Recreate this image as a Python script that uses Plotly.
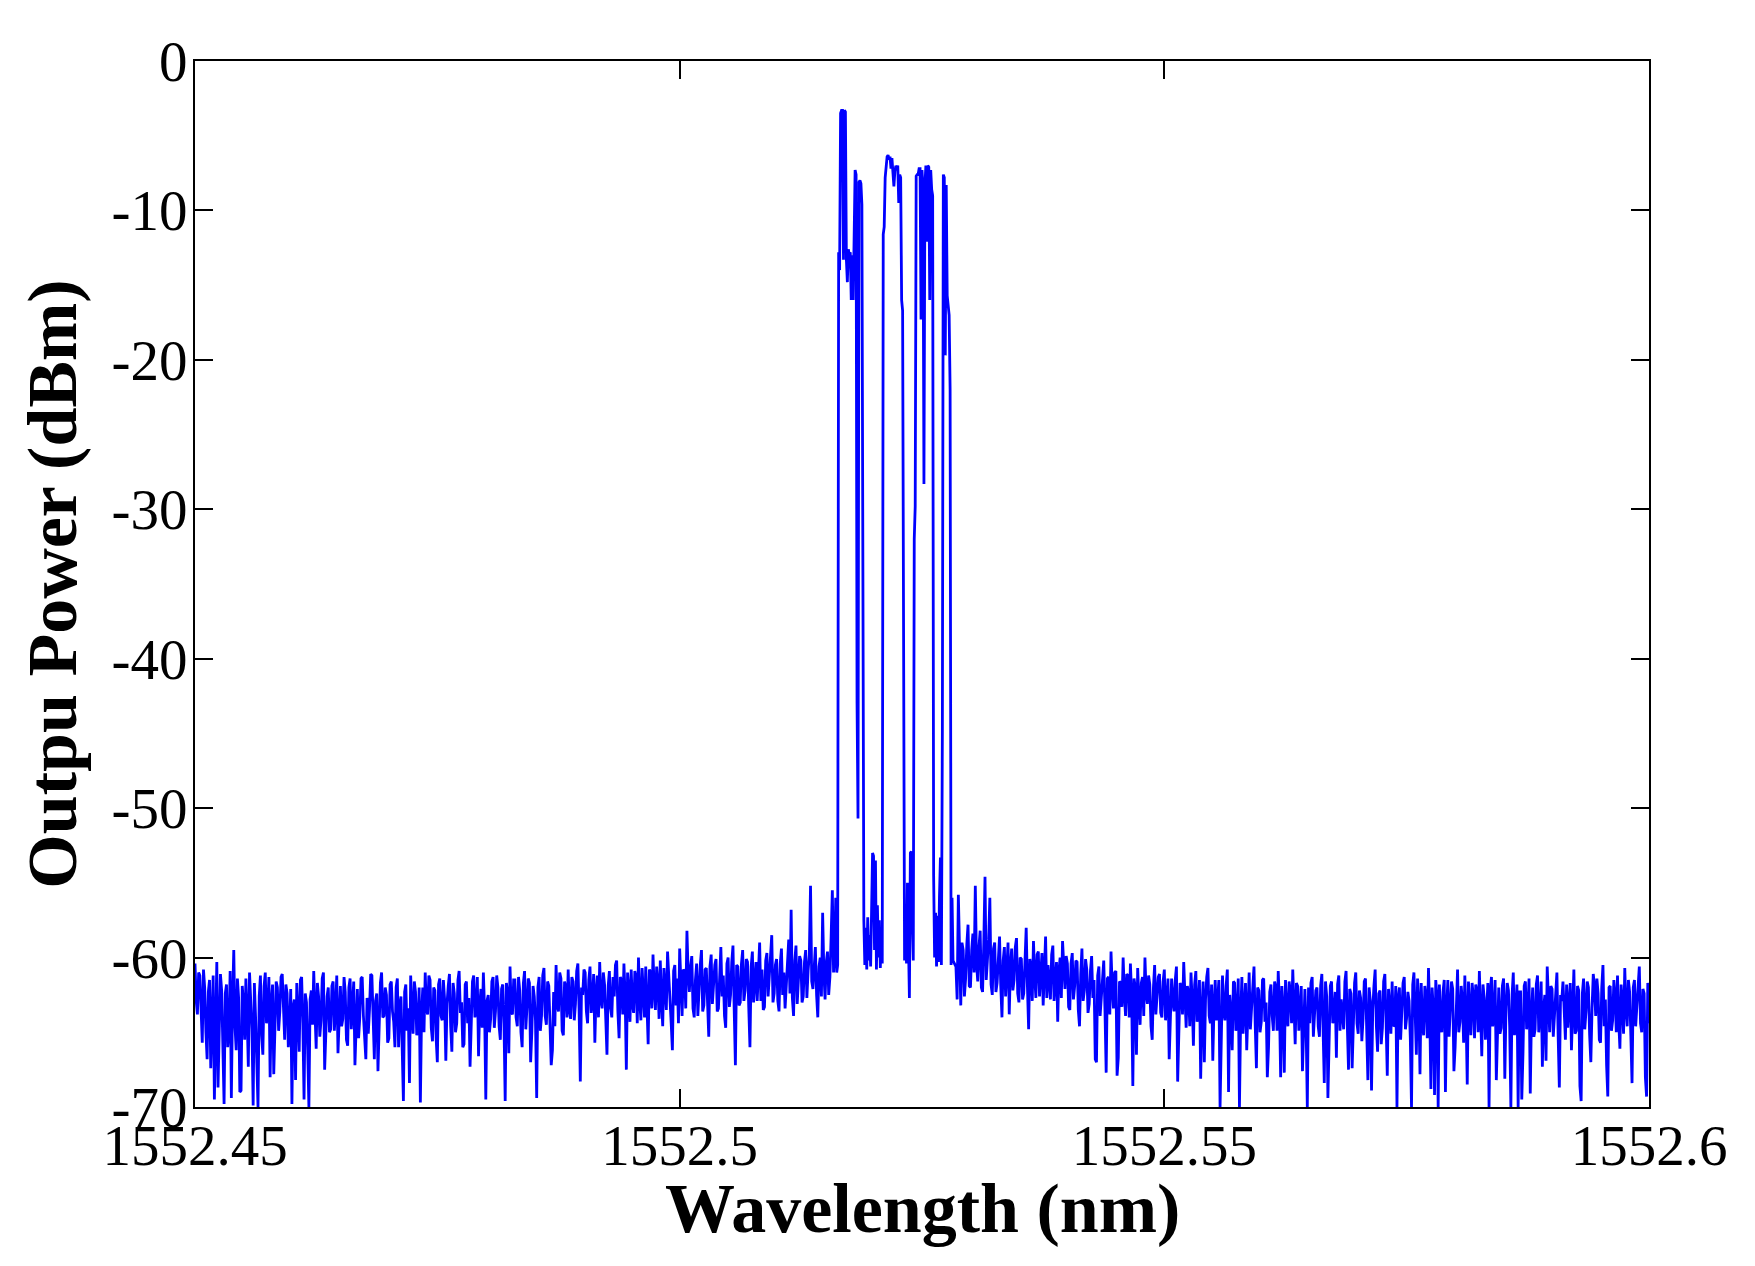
import numpy as np
import plotly.graph_objects as go

# ---- data: optical spectrum ----
# left noise floor: samples on a uniform wavelength grid (set A) and
# the in-between samples (set B, offset by half a step)
left_start = 1552.45
left_step = 0.00025
left_power = [
    -60.4, -63.8, -61.2, -65.7, -62.0, -66.8, -61.5, -63.9, -69.5, -60.3, -64.6, -62.2,
    -69.8, -61.8, -64.9, -69.4, -59.5, -66.2, -62.7, -68.9, -63.1, -61.4, -67.3, -62.5,
    -69.9, -64.0, -70.0, -61.2, -66.5, -61.0, -63.4, -68.0, -61.8, -65.1, -62.0, -63.6,
    -61.1, -65.5, -62.4, -64.8, -69.8, -62.8, -61.7, -66.3, -61.3, -69.5, -63.0, -70.0,
    -62.2, -60.9, -66.1, -62.6, -64.2, -61.0, -65.3, -62.0, -64.8, -61.6, -63.5, -66.4,
    -61.9, -64.1, -62.3, -65.9, -61.4, -63.2, -67.2, -62.1, -64.0, -61.3, -65.6, -62.7,
    -63.5, -61.2, -66.8, -62.4, -64.7, -61.0, -63.9, -62.5, -65.4, -61.6, -64.3, -62.0,
    -66.0, -62.6, -69.6, -61.8, -63.4, -61.2, -65.1, -62.3, -64.6, -69.7, -62.0, -61.0,
    -63.8, -61.5, -65.6, -62.2, -67.0, -61.4, -64.2, -62.8, -63.1, -61.1, -66.3, -62.4,
    -64.4, -60.9, -63.0, -65.8, -61.6, -62.7, -64.9, -61.2, -63.5, -66.6, -62.1, -61.0,
    -69.5, -62.5, -64.1, -61.3, -63.6, -62.0, -65.5, -61.8, -69.6, -62.4, -60.6, -63.8,
    -61.5, -64.6, -62.2, -66.0, -60.9, -63.3, -61.7, -65.0, -62.6, -69.4, -61.3, -63.9,
    -60.7, -64.5, -61.9, -67.2, -62.3, -60.5, -63.6, -61.4, -65.2, -62.0, -60.8, -64.1,
    -61.6, -63.1, -60.4, -68.3, -62.5, -61.0, -64.4, -60.6, -62.9, -65.7, -61.2, -60.3,
    -63.4, -61.8, -66.5, -60.9, -64.0, -62.6, -60.2, -65.4, -61.5, -60.4, -67.5, -62.1,
    -60.8, -63.7, -61.3, -60.0, -64.2, -62.4, -60.6, -65.8, -61.0, -59.8, -63.5, -61.7,
    -60.2, -64.6, -61.9, -59.6, -62.8, -66.2, -60.5, -61.4, -59.4, -63.9, -60.9, -58.2,
    -62.3, -59.9, -64.0, -60.4, -61.8, -59.5, -63.2, -60.7, -65.3, -59.8, -61.6, -60.1,
    -63.4, -59.3, -61.2, -64.7, -60.0, -62.5, -59.2, -67.2, -60.6, -63.0, -59.5, -62.2,
    -60.3, -66.0, -59.6, -61.5, -62.9, -59.0, -60.8, -63.3, -59.7, -61.2, -58.5, -62.4,
    -60.1, -63.6, -59.4, -61.0, -62.0, -58.8, -56.8, -63.9, -59.2, -61.8, -60.2, -62.6,
    -59.5, -60.9, -55.2, -62.1, -59.3, -64.0, -60.0, -57.0, -62.8, -59.6, -61.3, -55.5,
]
left_power_mid = [
    -62.9, -61.0, -64.4, -60.8, -65.0, -62.3, -67.4, -61.2, -63.6, -68.7, -61.1, -65.3,
    -62.4, -66.0, -60.9, -63.0, -64.6, -61.4, -69.0, -61.9, -65.5, -63.8, -61.0, -64.8,
    -61.7, -66.9, -62.6, -65.2, -61.9, -64.4, -61.3, -63.0, -67.8, -61.6, -64.9, -61.3,
    -64.2, -61.8, -66.0, -62.1, -63.3, -68.2, -63.8, -61.5, -64.4, -62.4, -66.2, -62.8,
    -64.5, -63.6, -61.7, -65.3, -61.4, -67.5, -62.6, -65.0, -61.9, -64.9, -61.2, -63.4,
    -64.6, -61.3, -65.5, -62.0, -64.8, -61.6, -63.7, -65.4, -61.4, -63.9, -66.8, -65.1,
    -61.1, -64.5, -62.9, -67.6, -61.7, -64.0, -62.0, -65.7, -61.8, -63.6, -66.0, -61.4,
    -63.2, -65.4, -62.3, -64.9, -68.4, -63.5, -61.6, -65.2, -62.0, -63.7, -65.0, -63.5,
    -61.2, -64.7, -62.0, -65.4, -61.8, -63.9, -61.5, -66.9, -61.9, -64.6, -61.7, -65.0,
    -61.5, -63.7, -66.0, -61.8, -64.4, -67.3, -61.6, -64.0, -61.3, -63.2, -64.7, -63.5,
    -62.9, -65.0, -61.6, -64.7, -61.2, -64.6, -62.1, -64.4, -61.7, -66.4, -63.6, -61.5,
    -64.0, -61.3, -65.0, -61.7, -64.8, -61.4, -67.0, -61.9, -64.2, -62.0, -64.9, -61.2,
    -63.9, -61.6, -64.7, -66.2, -64.6, -63.2, -61.0, -64.9, -61.6, -64.0, -63.5, -61.3,
    -64.2, -60.9, -63.5, -62.0, -60.8, -63.6, -61.5, -63.7, -61.1, -62.4, -64.0, -62.9,
    -61.0, -64.1, -61.9, -63.4, -61.3, -60.5, -63.6, -61.3, -63.8, -62.6, -61.0, -64.3,
    -63.1, -60.9, -64.4, -62.8, -60.7, -64.0, -62.9, -60.8, -63.4, -62.1, -60.6, -64.1,
    -62.8, -60.7, -63.5, -61.6, -64.4, -60.9, -63.2, -64.4, -61.7, -60.8, -63.4, -61.0,
    -60.6, -63.4, -61.5, -63.9, -60.5, -63.6, -60.8, -62.8, -60.6, -63.1, -60.5, -63.6,
    -60.8, -62.6, -63.9, -60.4, -63.3, -60.3, -63.5, -60.5, -63.2, -60.4, -62.9, -60.1,
    -63.3, -60.6, -63.0, -60.3, -60.6, -62.9, -63.5, -60.2, -62.6, -60.1, -63.0, -60.5,
    -62.9, -60.4, -62.5, -63.4, -60.0, -62.4, -62.7, -60.2, -63.1, -59.9, -63.0, -60.3,
    -62.7, -59.8, -61.6, -60.4, -62.5, -60.6, -62.6, -61.0, -60.3, -62.5, -58.6, -61.0,
]

# lasing lines region, finer grid
peak_start = 1552.5160
peak_step = 0.0001
peak_power = [
    -59.5, -56.0, -61.0, -60.5, -12.8, -14.0, -3.5, -3.3, -3.3, -13.3,
    -3.3, -3.4, -13.3, -14.8, -12.6, -13.0, -12.8, -16.0, -13.0, -16.0,
    -11.2, -7.3, -7.6, -43.0, -50.7, -8.1, -8.0, -8.2, -9.6, -42.0,
    -57.5, -60.5, -58.0, -60.8, -57.3, -60.2, -58.5, -60.6, -57.0, -53.0,
    -53.2, -59.5, -53.5, -60.8, -56.5, -60.0, -57.5, -60.7, -58.0, -60.4,
    -11.6, -11.1, -7.8, -7.0, -6.4, -6.3, -6.6, -6.4, -7.2, -6.5,
    -8.0, -8.4, -7.4, -7.0, -7.2, -7.0, -9.5, -7.6, -7.8, -16.0,
    -16.7, -48.0, -60.2, -57.0, -60.4, -55.0, -59.8, -62.7, -53.0, -52.9,
    -57.5, -60.2, -32.0, -29.8, -7.7, -7.6, -7.6, -7.2, -7.2, -17.3,
    -7.3, -8.4, -28.3, -8.3, -7.0, -12.1, -7.0, -7.1, -16.0, -7.3,
    -8.6, -9.0, -54.5, -60.0, -57.0, -60.6, -57.2, -60.3, -56.0, -53.3,
    -60.5, -45.0, -7.6, -7.8, -19.7, -8.3, -15.7, -16.3, -17.0, -22.0,
    -60.5, -56.0, -60.2,
]

# right noise floor (set A on grid, set B half a step later)
right_start = 1552.5285
right_step = 0.00025
right_power = [
    -60.6, -55.8, -63.2, -59.5, -61.4, -57.8, -62.0, -58.4, -55.2, -61.6, -58.2, -62.3,
    -54.6, -60.3, -56.0, -62.5, -59.0, -61.7, -58.6, -64.0, -59.3, -61.2, -63.8, -59.4,
    -61.5, -58.7, -63.0, -60.1, -62.4, -58.0, -64.8, -60.6, -58.9, -62.7, -59.6, -61.0,
    -63.2, -58.6, -60.5, -62.8, -59.2, -61.6, -64.3, -60.0, -58.9, -62.1, -60.4, -63.5,
    -59.7, -61.9, -60.3, -64.6, -59.4, -62.2, -60.8, -63.1, -59.9, -61.5, -67.0, -60.6,
    -62.7, -60.2, -67.7, -61.3, -59.6, -63.4, -60.9, -66.7, -61.7, -60.0, -63.9, -61.2,
    -60.4, -68.6, -62.0, -60.7, -64.5, -61.3, -60.0, -63.1, -61.8, -65.5, -60.5, -62.6,
    -61.1, -64.0, -60.8, -62.9, -66.8, -61.4, -63.6, -60.6, -65.2, -61.9, -60.3, -64.7,
    -62.4, -61.0, -65.9, -60.9, -63.3, -68.1, -61.6, -62.8, -60.7, -64.4, -66.9, -61.5,
    -63.0, -70.0, -61.2, -64.2, -60.8, -62.5, -66.2, -61.7, -63.8, -70.0, -61.3, -62.9,
    -66.2, -61.0, -63.5, -60.6, -67.4, -62.2, -64.3, -61.4, -63.0, -66.0, -61.8, -64.9,
    -62.0, -60.9, -68.0, -63.4, -61.5, -64.6, -62.3, -60.8, -65.8, -61.9, -63.2, -67.6,
    -62.1, -70.0, -64.4, -61.3, -63.7, -62.0, -65.3, -61.1, -68.4, -62.6, -64.0, -61.6,
    -63.9, -66.7, -61.2, -62.8, -64.8, -60.9, -67.5, -62.4, -63.6, -61.0, -65.1, -62.7,
    -64.1, -61.4, -68.2, -62.9, -63.5, -60.8, -66.3, -62.2, -64.7, -61.1, -67.9, -63.2,
    -61.6, -64.5, -70.0, -62.0, -63.8, -61.3, -64.0, -62.9, -70.0, -61.0, -66.5, -63.0,
    -61.7, -65.2, -62.6, -60.7, -68.8, -63.4, -61.5, -70.0, -64.2, -62.3, -69.0, -61.5,
    -63.7, -62.1, -66.0, -60.8, -64.3, -62.9, -61.2, -68.5, -63.6, -61.7, -65.4, -62.2,
    -60.9, -66.6, -62.7, -63.1, -70.0, -61.3, -63.9, -68.2, -62.0, -64.7, -61.4, -63.3,
    -62.2, -70.0, -61.0, -63.5, -70.0, -62.3, -66.4, -61.6, -63.5, -69.1, -62.0, -64.8,
    -61.2, -63.7, -67.3, -62.5, -60.6, -65.0, -62.1, -63.8, -61.0, -68.7, -62.9, -64.4,
    -61.8, -63.1, -66.2, -60.8, -64.9, -62.2, -69.6, -61.4, -63.6, -62.0, -67.0, -61.1,
    -63.9, -62.4, -65.7, -60.5, -62.8, -69.3, -61.9, -64.2, -62.6, -61.2, -66.1, -63.0,
    -60.7, -64.6, -62.3, -68.4, -61.5, -63.2, -60.6, -65.0, -62.4, -69.3, -62.6,
]
right_power_mid = [
    -62.8, -60.9, -59.0, -62.6, -59.1, -61.9, -59.5, -61.0, -60.4, -59.3, -62.0, -59.0,
    -61.5, -58.8, -61.8, -59.4, -62.3, -59.8, -61.9, -60.2, -62.6, -59.0, -60.6, -62.2,
    -59.3, -62.4, -60.0, -62.8, -59.5, -61.9, -60.1, -62.9, -61.3, -59.8, -62.6, -59.7,
    -60.9, -62.7, -61.6, -59.8, -62.9, -60.3, -60.9, -62.7, -61.2, -59.9, -63.3, -60.4,
    -62.8, -60.2, -63.5, -61.1, -62.9, -60.1, -63.7, -60.9, -62.7, -66.8, -61.2, -63.9,
    -60.8, -63.5, -61.4, -63.8, -62.0, -61.0, -67.9, -61.6, -63.3, -62.4, -61.1, -64.0,
    -62.5, -61.4, -66.5, -62.8, -61.7, -63.9, -62.4, -61.2, -64.6, -62.0, -63.8, -61.3,
    -63.7, -61.6, -64.2, -61.4, -63.5, -62.9, -61.5, -68.3, -61.7, -63.8, -62.9, -61.9,
    -64.6, -62.9, -61.8, -64.3, -61.5, -63.7, -67.0, -61.3, -63.9, -61.8, -63.3, -64.2,
    -61.5, -64.1, -63.6, -61.9, -69.0, -63.8, -61.6, -64.9, -61.4, -63.9, -65.1, -61.7,
    -63.6, -64.8, -61.8, -64.5, -62.0, -65.0, -61.5, -64.3, -68.0, -62.3, -63.9, -61.6,
    -64.9, -63.1, -61.9, -67.7, -63.7, -61.6, -64.4, -63.3, -61.7, -64.9, -61.9, -63.8,
    -64.5, -62.0, -61.7, -65.3, -62.2, -64.6, -61.9, -64.2, -61.6, -69.4, -61.9, -64.4,
    -62.3, -61.8, -64.9, -63.9, -61.6, -64.5, -62.1, -67.4, -61.7, -64.4, -62.2, -65.6,
    -61.6, -64.9, -62.0, -68.9, -61.9, -64.6, -62.4, -65.8, -61.6, -64.3, -62.1, -65.1,
    -64.6, -61.9, -62.7, -65.5, -61.7, -64.8, -62.3, -65.4, -61.8, -64.7, -61.4, -67.8,
    -64.3, -61.9, -65.4, -63.6, -62.0, -69.2, -62.6, -61.8, -65.0, -61.5, -63.4, -65.3,
    -61.6, -67.6, -62.4, -65.0, -61.9, -65.7, -63.8, -61.6, -65.2, -62.6, -61.8, -65.0,
    -64.3, -61.8, -65.5, -61.7, -62.2, -64.6, -61.5, -64.9, -65.1, -61.9, -68.1, -61.7,
    -64.6, -62.5, -65.2, -61.8, -62.3, -69.5, -61.9, -64.8, -61.4, -63.8, -65.3, -61.8,
    -65.0, -61.6, -63.5, -66.9, -62.8, -61.9, -65.3, -61.6, -65.2, -62.5, -61.6, -65.5,
    -64.7, -61.7, -63.5, -65.1, -61.9, -68.6, -62.4, -64.8, -61.6, -65.2, -63.4, -61.9,
    -61.4, -65.5, -62.0, -64.6, -67.2, -62.0, -64.9, -61.5, -65.0, -64.3, -61.8, -65.1,
    -63.4, -61.5, -65.2, -62.0, -64.6, -61.8, -64.4, -62.1, -68.0, -61.7, -64.4,
]

x_tickvals = [1552.45, 1552.5, 1552.55, 1552.6]
x_ticktext = ["1552.45", "1552.5", "1552.55", "1552.6"]
y_tickvals = [0, -10, -20, -30, -40, -50, -60, -70]
y_ticktext = ["0", "-10", "-20", "-30", "-40", "-50", "-60", "-70"]

# ---- wavelength grids (instrument sampling) ----
wl_left = left_start + left_step * np.arange(len(left_power))
wl_left_mid = left_start + left_step * (np.arange(len(left_power_mid)) + 0.5)
wl_peak = peak_start + peak_step * np.arange(len(peak_power))
wl_right = right_start + right_step * np.arange(len(right_power))
wl_right_mid = right_start + right_step * (np.arange(len(right_power_mid)) + 0.5)

wavelength = np.concatenate([wl_left, wl_left_mid, wl_peak, wl_right, wl_right_mid])
power = np.concatenate([left_power, left_power_mid, peak_power, right_power, right_power_mid])
order = np.argsort(wavelength, kind="stable")
wavelength = wavelength[order]
power = power[order]

fig = go.Figure(
    go.Scatter(
        x=wavelength,
        y=power,
        mode="lines",
        line=dict(color="#0000FF", width=2.8),
        showlegend=False,
    )
)

tick_font = dict(family="Liberation Serif", size=57, color="black")
title_font = dict(family="Liberation Serif", size=70, color="black", weight="bold")

fig.update_layout(
    width=1755,
    height=1266,
    margin=dict(l=195, r=106, t=61, b=159, pad=0),
    paper_bgcolor="white",
    plot_bgcolor="white",
    xaxis=dict(
        range=[1552.45, 1552.6],
        tickvals=x_tickvals,
        ticktext=x_ticktext,
        ticks="inside",
        ticklen=18,
        tickwidth=2,
        tickcolor="black",
        showline=True,
        linecolor="black",
        linewidth=2,
        mirror="ticks",
        showgrid=False,
        zeroline=False,
        tickfont=tick_font,
        ticklabelstandoff=-12,
    ),
    yaxis=dict(
        range=[-70, 0],
        tickvals=y_tickvals,
        ticktext=y_ticktext,
        ticks="inside",
        ticklen=18,
        tickwidth=2,
        tickcolor="black",
        showline=True,
        linecolor="black",
        linewidth=2,
        mirror="ticks",
        showgrid=False,
        zeroline=False,
        tickfont=tick_font,
        ticklabelstandoff=-6,
        title=dict(text="Outpu Power (dBm)", font=title_font, standoff=12),
    ),
    annotations=[
        dict(
            text="Wavelength (nm)",
            xref="paper",
            yref="paper",
            x=0.5,
            y=-0.097,
            xanchor="center",
            yanchor="middle",
            showarrow=False,
            font=title_font,
        )
    ],
)

fig.write_html(
    "out.html",
    config={"displayModeBar": False},
    post_script="document.body.style.margin='0';",
)
